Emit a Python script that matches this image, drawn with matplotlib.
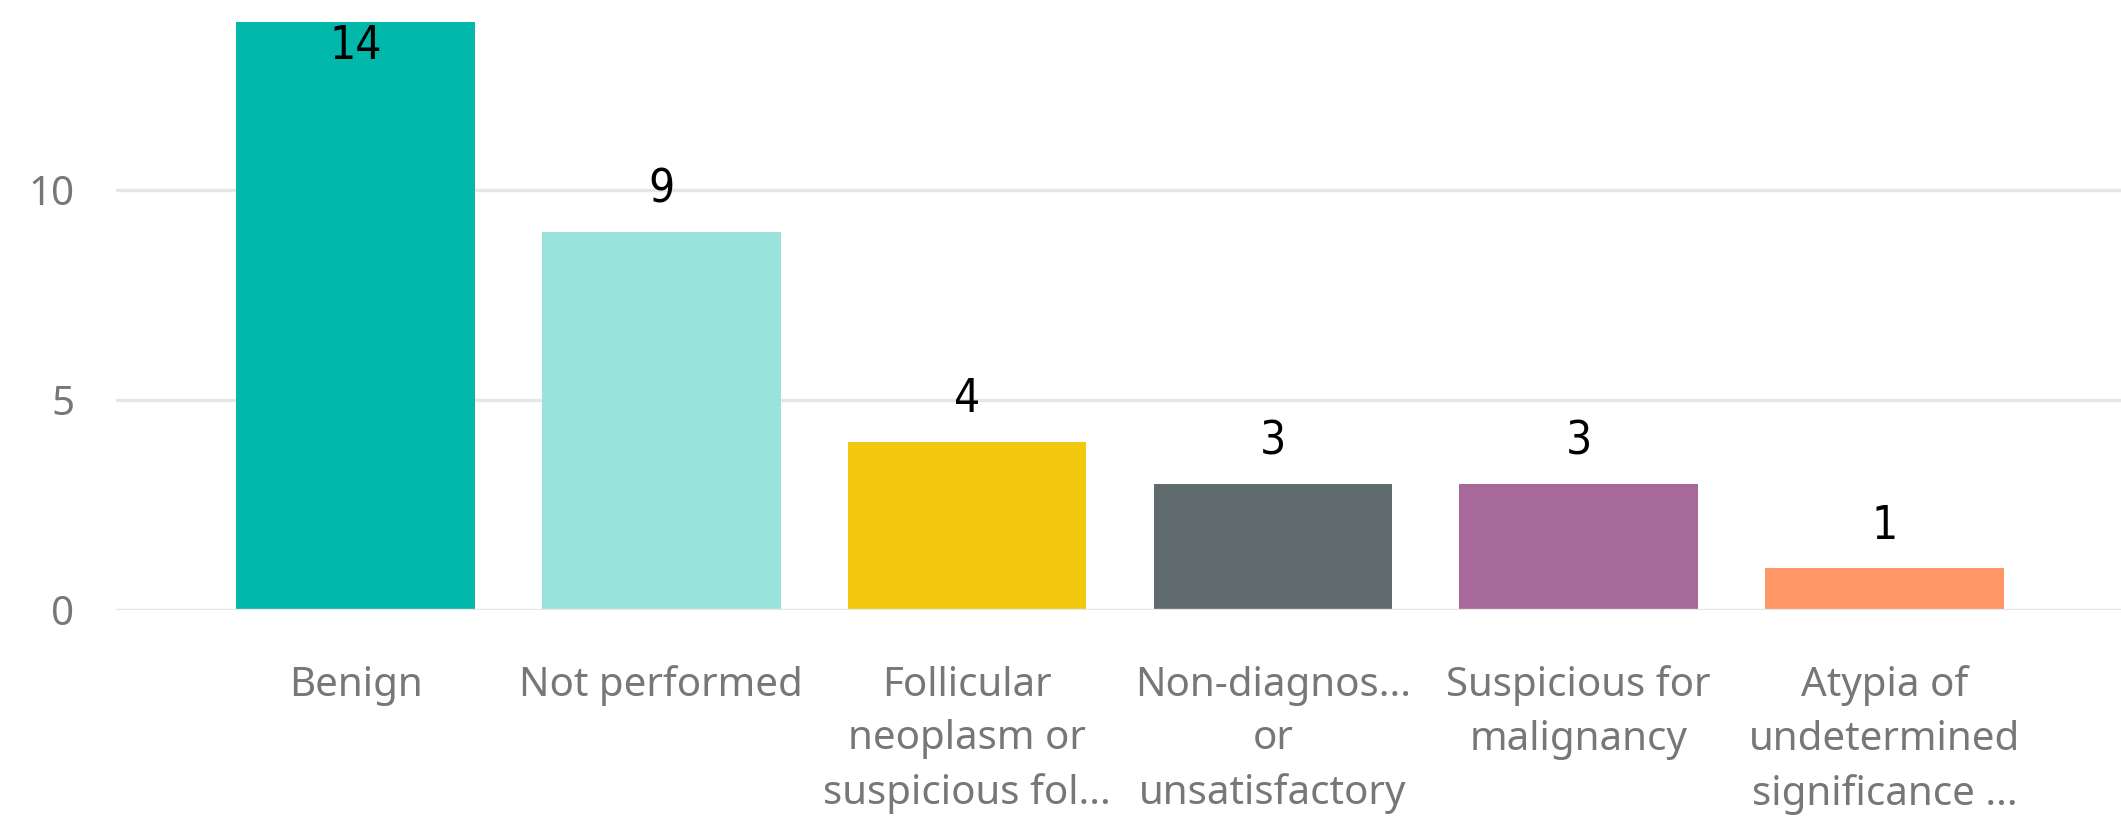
import numpy as np
import matplotlib
matplotlib.use("Agg")
import matplotlib.pyplot as plt

# Data
categories = [
    "Benign",
    "Not performed",
    "Follicular\nneoplasm or\nsuspicious fol...",
    "Non-diagnos...\nor\nunsatisfactory",
    "Suspicious for\nmalignancy",
    "Atypia of\nundetermined\nsignificance ...",
]
counts = [14, 9, 4, 3, 3, 1]
colors = ["#01B8AA", "#99E3DC", "#F2C80F", "#5F6B6D", "#A66999", "#FE9666"]
yticks = [0, 5, 10]

label_font = ["Noto Sans", "DejaVu Sans"]
value_font = ["DejaVu Sans"]

fig = plt.figure(figsize=(21.21, 8.21), dpi=100)
ax = fig.add_axes([0.0548, 0.257, 0.9452, 0.7166])

x = np.arange(len(categories))
ax.bar(x, counts, width=0.78, color=colors, zorder=2)

ax.set_xlim(-0.783, 5.774)
ax.set_ylim(0, 14)

# grid lines (baseline sits on top of the bars' bottoms)
for t in yticks:
    ax.axhline(t, color="#E6E6E6", lw=2.4, zorder=3 if t == 0 else 1)

ax.set_yticks(yticks)
ax.set_yticklabels([str(t) for t in yticks], family=label_font, fontsize=29, color="#777777")
ax.set_xticks(x)
ax.set_xticklabels(categories, family=label_font, fontsize=29, color="#777777",
                   linespacing=1.45, va="top", ha="center")
ax.tick_params(axis="both", length=0)
ax.tick_params(axis="y", pad=30)
ax.tick_params(axis="x", pad=40)

for s in ax.spines.values():
    s.set_visible(False)

# value labels
top = ax.get_ylim()[1]
for xi, v in zip(x, counts):
    if v >= top - 1:
        ax.annotate(str(v), (xi, v), xytext=(0, -2), textcoords="offset points",
                    ha="center", va="top", fontsize=33, family=value_font,
                    stretch="condensed", color="black", zorder=4)
    else:
        ax.annotate(str(v), (xi, v), xytext=(0, 14), textcoords="offset points",
                    ha="center", va="bottom", fontsize=33, family=value_font,
                    stretch="condensed", color="black", zorder=4)

fig.savefig("out.png", dpi=100, facecolor="white")
